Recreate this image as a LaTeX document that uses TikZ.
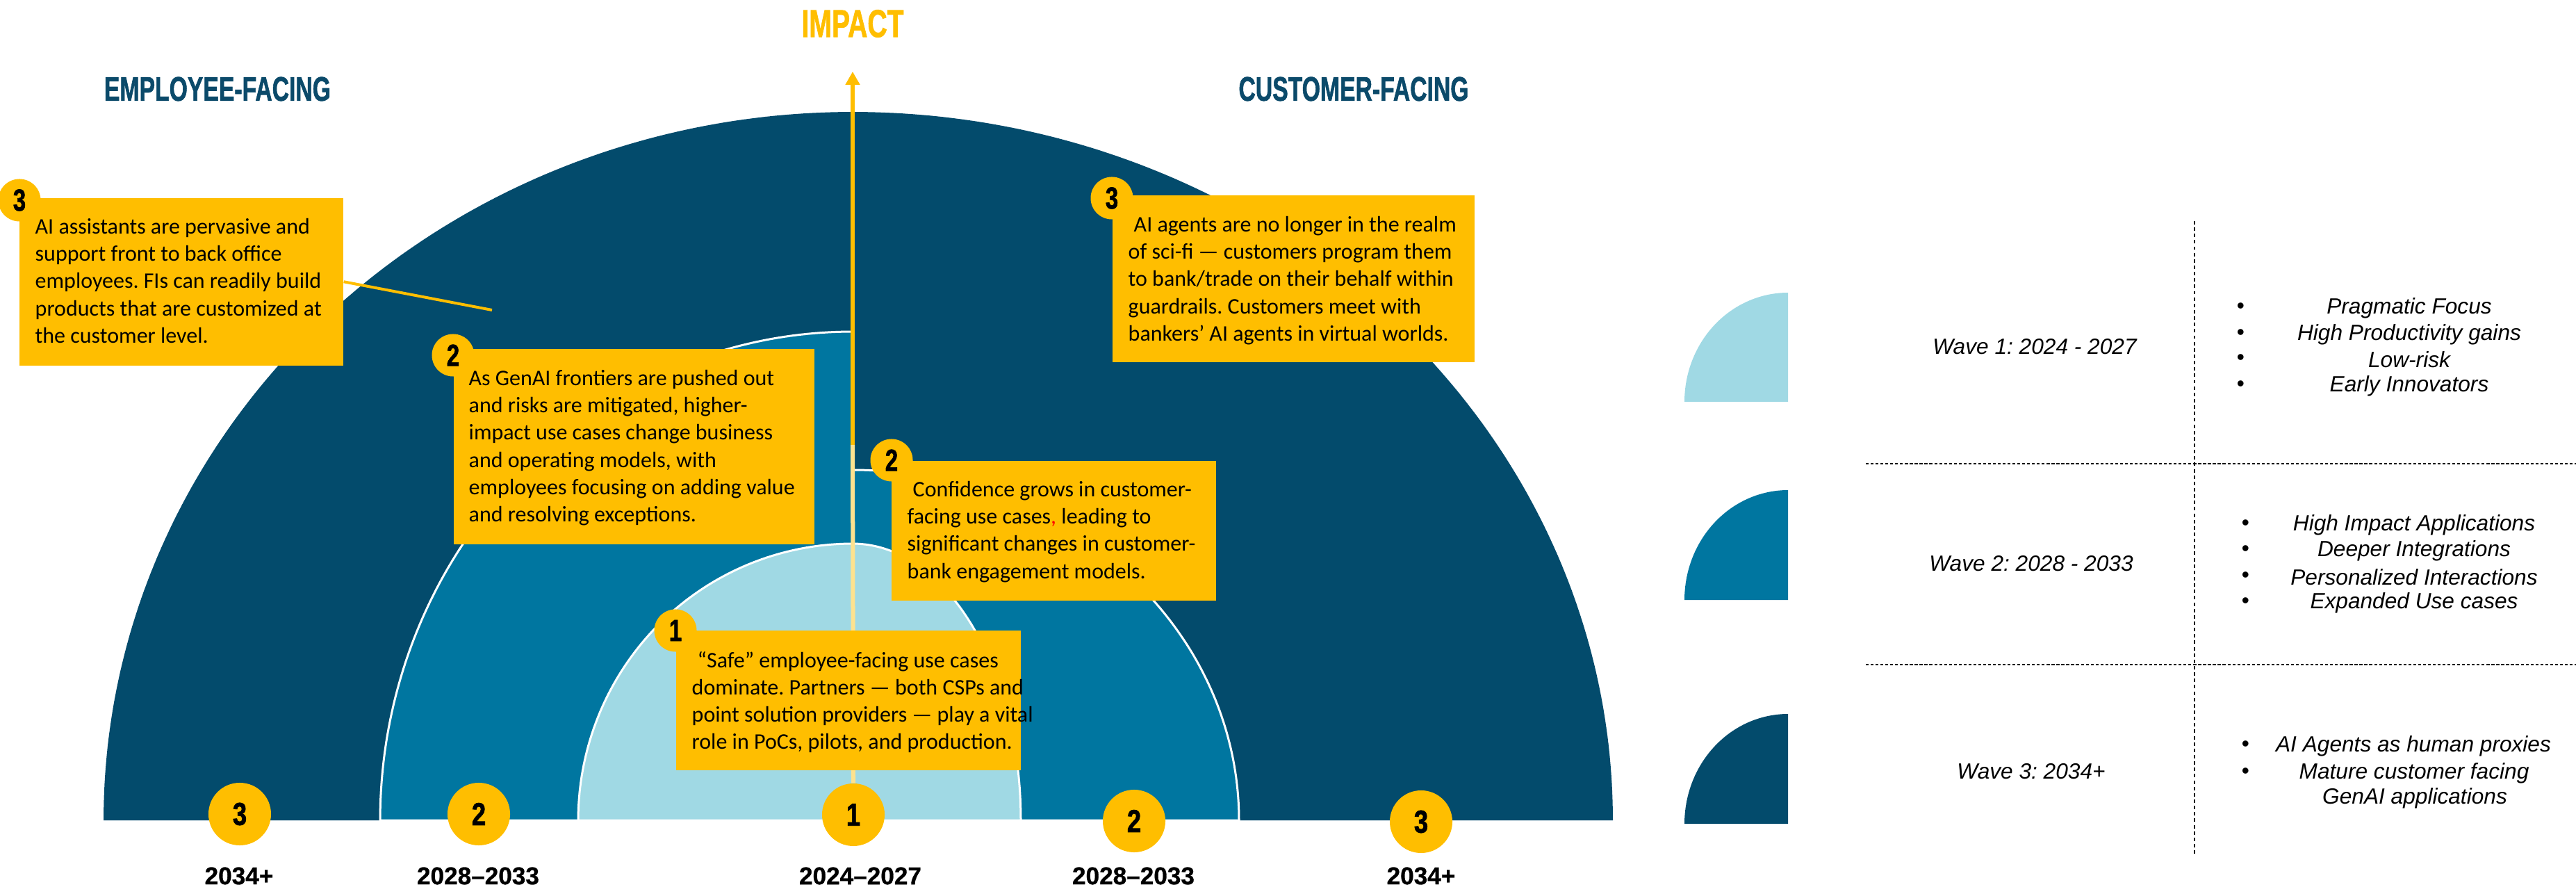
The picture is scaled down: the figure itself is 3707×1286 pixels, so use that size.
\documentclass[tikz,border=0pt]{standalone}
\usepackage{fontspec}
\usepackage{graphicx}
\setmainfont{Carlito}
\newfontfamily\hfont{Liberation Sans}
\newfontfamily\heavyfont[BoldFeatures={FakeBold=1.6}]{Liberation Sans}
\newfontfamily\semiheavyfont[BoldFeatures={FakeBold=0.8}]{Liberation Sans}
\usetikzlibrary{arrows.meta}
\definecolor{wdark}{HTML}{034B6C}
\definecolor{wmid}{HTML}{0076A0}
\definecolor{wlight}{HTML}{A0D9E4}
\definecolor{ayel}{HTML}{FFBE00}
\definecolor{apale}{HTML}{FDE28F}
\definecolor{tdark}{HTML}{0B4A6A}
\newcommand{\rkbody}{\frenchspacing\fontsize{9.1}{11.1}\selectfont}
\newcommand{\rkbadge}{\heavyfont\bfseries\fontsize{12.5}{12.5}\selectfont}
\newcommand{\rkbig}{\heavyfont\bfseries\fontsize{13}{13}\selectfont}
\newcommand{\rkyear}{\semiheavyfont\bfseries\fontsize{10}{10}\selectfont}
\newcommand{\rktitle}{\heavyfont\bfseries\fontsize{13.9}{13.9}\selectfont}
\newcommand{\rkimpact}{\heavyfont\bfseries\fontsize{15.9}{15.9}\selectfont}
\newcommand{\rkpanel}{\frenchspacing\hfont\itshape\fontsize{9}{10.5}\selectfont}
\begin{document}
\begin{tikzpicture}[x=0.01cm,y=-0.01cm,
  ybox/.style={fill=ayel, inner sep=0pt, anchor=north west, draw=none},
  btext/.style={anchor=north west, inner sep=0pt, align=left, font=\rkbody, text=black},
  badge/.style={circle, fill=ayel, inner sep=0pt, minimum size=0.61cm, font=\rkbadge},
  ycirc/.style={circle, fill=ayel, inner sep=0pt, minimum size=0.9cm, font=\rkbig},
  yearlbl/.style={font=\rkyear, inner sep=0pt},
  titlelbl/.style={font=\rktitle, text=tdark, inner sep=0pt},
  wavelbl/.style={font=\rkpanel, inner sep=0pt},
  itemlbl/.style={font=\rkpanel, inner sep=0pt, align=center},
  bul/.style={font=\rkpanel, inner sep=0pt},
  sepline/.style={draw=white, line width=0.03cm},
  dashv/.style={black, line width=0.4pt, dash pattern=on 1.4pt off 1.2pt},
  dashh/.style={black, line width=0.4pt, dash pattern=on 1.2pt off 0.8pt},
]
\useasboundingbox (0,0) rectangle (3707,1286);

% ---- waves (semi-ellipses) ----
\fill[wdark] plot[domain=180:270,samples=120] ({1227+1078*cos(\x)},{1180+1019*sin(\x)})
  -- plot[domain=270:360,samples=120] ({1227+1094*cos(\x)},{1180+1019*sin(\x)}) -- cycle;
\filldraw[fill=wmid, sepline] plot[domain=180:270,samples=100] ({1227+680*cos(\x)},{1180+703*sin(\x)})
  -- plot[domain=270:360,samples=100] ({1227+556*cos(\x)},{1180+504*sin(\x)}) -- cycle;
\filldraw[fill=wlight, sepline] plot[domain=180:270,samples=80] ({1227+395*cos(\x)},{1180+398*sin(\x)})
  -- plot[domain=270:360,samples=80] ({1227+242*cos(\x)},{1180+398*sin(\x)}) -- cycle;

% ---- bottom circles ----
\node[ycirc] (yl3) at (345,1171) {\scalebox{0.8}[1]{3}};
\node[ycirc] (yl2) at (689,1171) {\scalebox{0.8}[1]{2}};
\node[ycirc] (yc1) at (1228,1172) {\scalebox{0.8}[1]{1}};
\node[ycirc] (yr2) at (1632,1181) {\scalebox{0.8}[1]{2}};
\node[ycirc] (yr3) at (2045,1182) {\scalebox{0.8}[1]{3}};

% ---- axis ----
\coordinate (axmid) at (1227,640);
\coordinate (axtip) at (1227,103);
\draw[apale, line width=0.06cm] (yc1.north) -- (axmid);
\draw[ayel, line width=0.06cm, -{Triangle[width=0.2cm,length=0.19cm]}] (axmid) -- (axtip);

% ---- boxes ----
\node[ybox, minimum width=4.66cm, minimum height=2.41cm] (bl3) at (27,284) {};
\node[ybox, minimum width=5.19cm, minimum height=2.81cm] (bl2) at (652,501) {};
\node[ybox, minimum width=4.96cm, minimum height=2.01cm] (bc1) at (972,906) {};
\node[ybox, minimum width=4.67cm, minimum height=2.01cm] (br2) at (1282,662) {};
\node[ybox, minimum width=5.21cm, minimum height=2.40cm] (br3) at (1600,280) {};

\coordinate (l3end) at (708,446);
\draw[ayel, line width=0.04cm] (bl3.east) -- (l3end);

\node[btext] (tl3) at (50,314) {AI assistants are pervasive and\\
support front to back office\\
employees. FIs can readily build\\
products that are customized at\\
the customer level.};
\node[btext] (tl2) at (674,532) {As GenAI frontiers are pushed out\\
and risks are mitigated, higher-\\
impact use cases change business\\
and operating models, with\\
employees focusing on adding value\\
and resolving exceptions.};
\node[btext] (tc1) at (995,937) {\hspace*{0.25em}“Safe” employee-facing use cases\\
dominate. Partners — both CSPs and\\
point solution providers — play a vital\\
role in PoCs, pilots, and production.};
\node[btext] (tr2) at (1305,692) {\hspace*{0.25em}Confidence grows in customer-\\
facing use cases{\color{red},} leading to\\
significant changes in customer-\\
bank engagement models.};
\node[btext] (tr3) at (1623,311) {\hspace*{0.25em}AI agents are no longer in the realm\\
of sci-fi — customers program them\\
to bank/trade on their behalf within\\
guardrails. Customers meet with\\
bankers’ AI agents in virtual worlds.};

% ---- badges ----
\node[badge] (gl3) at (28,288) {\scalebox{0.75}[1]{3}};
\node[badge] (gl2) at (652,511) {\scalebox{0.75}[1]{2}};
\node[badge] (gc1) at (972,907) {\scalebox{0.75}[1]{1}};
\node[badge] (gr2) at (1283,662) {\scalebox{0.75}[1]{2}};
\node[badge] (gr3) at (1600,285) {\scalebox{0.75}[1]{3}};

% ---- year labels ----
\node[yearlbl] (yearl3) at (344,1260) {2034+};
\node[yearlbl] (yearl2) at (688,1260) {2028–2033};
\node[yearlbl] (yearc1) at (1238,1260) {2024–2027};
\node[yearlbl] (yearr2) at (1631,1260) {2028–2033};
\node[yearlbl] (yearr3) at (2045,1260) {2034+};

% ---- titles ----
\node[font=\rkimpact, text=ayel, inner sep=0pt] (impact) at (1227,34) {\scalebox{0.7}[1]{IMPACT}};
\node[titlelbl] (emp) at (313,128) {\scalebox{0.69}[1]{EMPLOYEE-FACING}};
\node[titlelbl] (cust) at (1948,128) {\scalebox{0.69}[1]{CUSTOMER-FACING}};

% ---- legend panel ----
\fill[wlight] plot[domain=180:270,samples=60] ({2573+149*cos(\x)},{578+157*sin(\x)}) -- (2573,578) -- cycle;
\fill[wmid] plot[domain=180:270,samples=60] ({2573+149*cos(\x)},{863+158*sin(\x)}) -- (2573,863) -- cycle;
\fill[wdark] plot[domain=180:270,samples=60] ({2573+149*cos(\x)},{1185+158*sin(\x)}) -- (2573,1185) -- cycle;

\coordinate (vtop) at (3158,318);
\coordinate (vbot) at (3158,1228);
\draw[dashv] (vtop) -- (vbot);
\coordinate (h1a) at (2685,667);
\coordinate (h1b) at (3707,667);
\coordinate (h2a) at (2685,956);
\coordinate (h2b) at (3707,956);
\draw[dashh] (h1a) -- (h1b);
\draw[dashh] (h2a) -- (h2b);

\node[wavelbl] (w1) at (2928,499) {Wave 1: 2024 - 2027};
\node[wavelbl] (w2) at (2923,811) {Wave 2: 2028 - 2033};
\node[wavelbl] (w3) at (2923,1110) {Wave 3: 2034+};

\node[bul] (b11) at (3224,443) {\textbullet};
\node[bul] (b12) at (3224,481) {\textbullet};
\node[bul] (b13) at (3224,517) {\textbullet};
\node[bul] (b14) at (3224,555) {\textbullet};
\node[itemlbl] (i11) at (3467,443) {Pragmatic Focus};
\node[itemlbl] (i12) at (3467,481) {High Productivity gains};
\node[itemlbl] (i13) at (3467,517) {Low-risk};
\node[itemlbl] (i14) at (3467,555) {Early Innovators};

\node[bul] (b21) at (3231,755) {\textbullet};
\node[bul] (b22) at (3231,792) {\textbullet};
\node[bul] (b23) at (3231,830) {\textbullet};
\node[bul] (b24) at (3231,867) {\textbullet};
\node[itemlbl] (i21) at (3474,755) {High Impact Applications};
\node[itemlbl] (i22) at (3474,792) {Deeper Integrations};
\node[itemlbl] (i23) at (3474,830) {Personalized Interactions};
\node[itemlbl] (i24) at (3474,867) {Expanded Use cases};

\node[bul] (b31) at (3231,1073) {\textbullet};
\node[bul] (b32) at (3231,1112) {\textbullet};
\node[itemlbl] (i31) at (3473,1073) {AI Agents as human proxies};
\node[itemlbl] (i32) at (3474,1112) {Mature customer facing};
\node[itemlbl] (i33) at (3475,1148) {GenAI applications};
\end{tikzpicture}
\end{document}
